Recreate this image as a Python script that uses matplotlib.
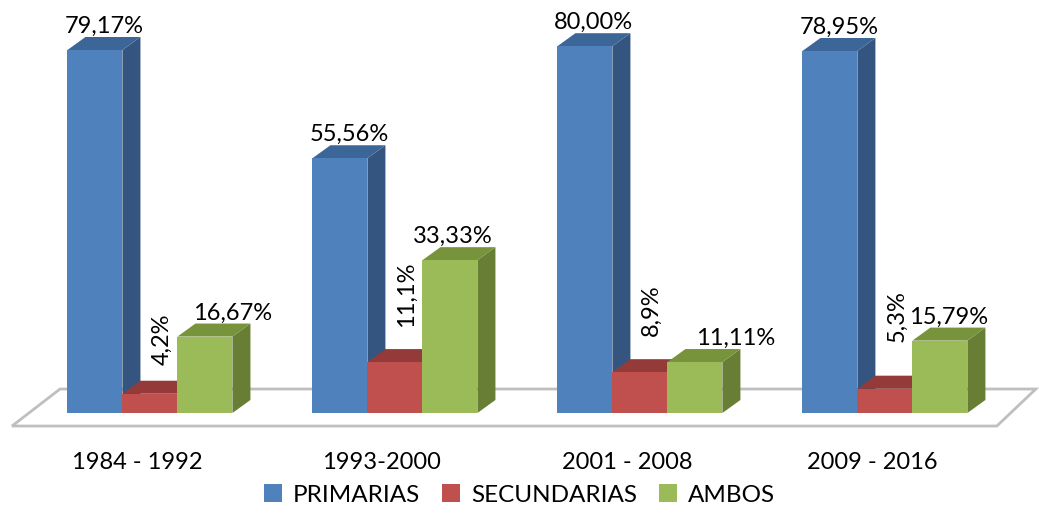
import matplotlib
matplotlib.use("Agg")
import matplotlib.pyplot as plt
import matplotlib.patches as patches
import numpy as np

# data
periodos = ["1984 - 1992", "1993-2000", "2001 - 2008", "2009 - 2016"]
series = ["PRIMARIAS", "SECUNDARIAS", "AMBOS"]
primarias = [79.17, 55.56, 80.00, 78.95]
secundarias = [4.2, 11.1, 8.9, 5.3]
ambos = [16.67, 33.33, 11.11, 15.79]
etiq_primarias = ["79,17%", "55,56%", "80,00%", "78,95%"]
etiq_secundarias = ["4,2%", "11,1%", "8,9%", "5,3%"]
etiq_ambos = ["16,67%", "33,33%", "11,11%", "15,79%"]

plt.rcParams['font.family'] = ['Lato', 'DejaVu Sans']

# colores: frente, lateral, tapa
colores = [
    ("#4F81BD", "#34557F", "#3C6698"),
    ("#C0504D", "#8C3836", "#943B39"),
    ("#9BBB59", "#687E35", "#77933C"),
]

fig = plt.figure(figsize=(10.39, 5.14), dpi=100)
ax = fig.add_axes([0, 0, 1, 1])
ax.set_xlim(-0.612, 3.629)
ax.set_ylim(-22.03, 90.08)
ax.axis('off')

ancho = 0.2245     # ancho de cada barra (unidades de grupo)
dx = 0.0735        # profundidad horizontal
dy = 2.84          # profundidad vertical

# piso
piso = patches.Polygon([(-0.563, -2.84), (3.457, -2.84), (3.616, 5.23), (-0.367, 5.23)],
                       closed=True, facecolor='white', edgecolor='#BFBFBF', linewidth=2, zorder=1)
ax.add_patch(piso)


def barra3d(x0, h, cols):
    frente, lado, tapa = cols
    ax.add_patch(patches.Polygon([(x0 + ancho, 0), (x0 + ancho + dx, dy), (x0 + ancho + dx, h + dy), (x0 + ancho, h)],
                                 closed=True, facecolor=lado, edgecolor='none', zorder=2))
    ax.add_patch(patches.Polygon([(x0, h), (x0 + ancho, h), (x0 + ancho + dx, h + dy), (x0 + dx, h + dy)],
                                 closed=True, facecolor=tapa, edgecolor='none', zorder=2))
    ax.add_patch(patches.Rectangle((x0, 0), ancho, h, facecolor=frente, edgecolor='none', zorder=2))


valores = [primarias, secundarias, ambos]
etiquetas = [etiq_primarias, etiq_secundarias, etiq_ambos]
# desplazamientos de etiquetas (puntos)
desp_ambos = [20, 2, 29, 6]
desp_secund = [11.5, 16, 17, 24]

for i in range(len(periodos)):
    for s in range(3):
        x0 = i + (s - 1) * ancho - ancho / 2
        h = valores[s][i]
        barra3d(x0, h, colores[s])
        xc = x0 + ancho / 2
        if s == 0:
            ax.annotate(etiquetas[s][i], (xc + dx / 2, h + dy), xytext=(0, 0), textcoords='offset points',
                        ha='center', va='bottom', fontsize=17, zorder=5)
        elif s == 1:
            ax.annotate(etiquetas[s][i], (xc + dx / 2, h + dy), xytext=(2, desp_secund[i]), textcoords='offset points',
                        ha='center', va='bottom', rotation=90, fontsize=17, zorder=5)
        else:
            ax.annotate(etiquetas[s][i], (xc, h + dy), xytext=(desp_ambos[i], 0), textcoords='offset points',
                        ha='center', va='bottom', fontsize=17, zorder=5)
    ax.text(i - 0.053, -10.9, periodos[i], ha='center', va='center', fontsize=17)

handles = [patches.Patch(facecolor=c[0], edgecolor='none') for c in colores]
fig.legend(handles, series, loc='center', bbox_to_anchor=(0.5, 0.037), ncol=3, frameon=False,
           fontsize=17.5, handlelength=0.75, handleheight=0.75, handletextpad=0.45, columnspacing=0.9)

fig.savefig("out.png", dpi=100)
